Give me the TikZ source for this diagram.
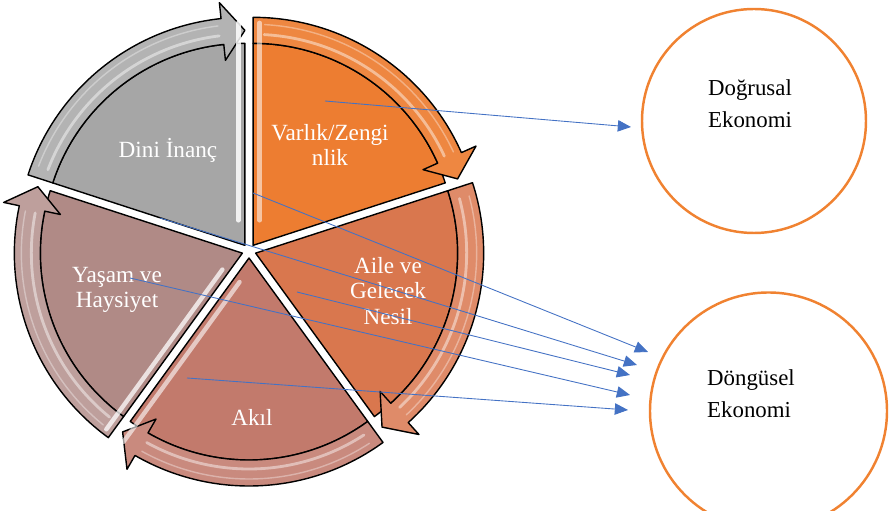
\documentclass[tikz,border=0pt]{standalone}
\usepackage{fontspec}
\setmainfont{Liberation Serif}
\usepackage{tikz}
\usetikzlibrary{arrows.meta}

\definecolor{varlikor}{HTML}{ED7D31}
\definecolor{aileor}{HTML}{D9774E}
\definecolor{akilor}{HTML}{C27A6C}
\definecolor{yasamor}{HTML}{B08A86}
\definecolor{dinigr}{HTML}{A6A6A6}
\definecolor{ringor}{HTML}{F08231}
\definecolor{linkblue}{HTML}{4472C4}

\tikzset{
	piece/.style={draw=black, line width=0.8pt, line join=round},
	gloss/.style={draw=white, line cap=round},
	seglabel/.style={text=white, align=center, font=\fontsize{13.2}{14.5}\selectfont},
	ecolabel/.style={text=black, align=left, font=\fontsize{13}{18}\selectfont},
	ecoring/.style={draw=ringor, line width=1.4pt, circle, inner sep=0pt},
	link/.style={draw=linkblue, line width=0.5pt, -{Triangle[length=7.5pt,width=6.5pt]}},
}

\begin{document}
\begin{tikzpicture}
	\useasboundingbox (0,0) rectangle (17.8,10.22);
	\coordinate (hub) at (4.98,5.20);

	% start angle / wedge / band / strip edge / strip side / strip opacity
	\foreach \a/\col/\bcol/\se/\ss/\so in {
		90/varlikor/varlikor!92!white/90/0/0.55,
		18/aileor/aileor!85!white/18/0/0,
		-54/akilor/akilor!88!white/-126/-36/0.6,
		-126/yasamor/yasamor!82!white/-126/144/0.75,
		162/dinigr/dinigr!85!white/90/180/0.85} {
		\pgfmathsetmacro{\e}{\a-72}
		\pgfmathsetmacro{\h}{\e+6}
		\begin{scope}[shift={(hub)}, shift={(\a-36:0.14)}]
			\path[piece, fill=\col] (0,0) -- (\a:4.04) arc[start angle=\a, end angle=\e, radius=4.04] -- cycle;
			\path[piece, fill=\bcol] (\a:4.04) -- (\a:4.56) arc[start angle=\a, end angle=\h, radius=4.56]
				-- (\h:4.88) -- (\e:4.30) -- (\h:3.72) -- (\h:4.04)
				arc[start angle=\h, end angle=\a, radius=4.04] -- cycle;
			\draw[gloss, opacity=0.45, line width=1.6pt] (\a-3:4.22) arc[start angle=\a-3, end angle=\h+1, radius=4.22];
			\draw[gloss, opacity=0.35, line width=0.8pt] (\a-3:4.42) arc[start angle=\a-3, end angle=\h+1, radius=4.42];
			\draw[gloss, opacity=\so, line width=2.5pt] ([shift={(\ss:0.13)}]\se:0.5) -- ([shift={(\ss:0.13)}]\se:4.45);
		\end{scope}
	}

	\node[seglabel] (varlik) at (6.60,7.32) {Varlık/Zengi\\nlik};
	\node[seglabel] (aile) at (7.76,4.40) {Aile ve\\Gelecek\\Nesil};
	\node[seglabel] (akil) at (5.04,1.88) {Akıl};
	\node[seglabel] (yasam) at (2.34,4.42) {Yaşam ve\\Haysiyet};
	\node[seglabel] (dini) at (3.36,7.22) {Dini İnanç};

	\node[ecoring, minimum size=4.48cm] (dogrusal) at (15.08,7.80) {};
	\node[ecolabel] (dogrusaltxt) at (15.00,8.14) {Doğrusal\\Ekonomi};
	\node[ecoring, minimum size=4.74cm] (dongusel) at (15.37,2.00) {};
	\node[ecolabel] (donguseltxt) at (15.02,2.34) {Döngüsel\\Ekonomi};

	% link ends
	\coordinate (varlikpt) at (6.50,8.20);
	\coordinate (dinipt) at (5.06,6.36);
	\coordinate (yasampt) at (3.20,5.86);
	\coordinate (ailept) at (5.94,4.38);
	\coordinate (haysiyetpt) at (2.60,4.66);
	\coordinate (akilpt) at (3.74,2.66);
	\coordinate (dogin) at (12.62,7.68);
	\coordinate (donin1) at (12.96,3.18);
	\coordinate (donin2) at (12.74,2.92);
	\coordinate (donin3) at (12.60,2.72);
	\coordinate (donin4) at (12.60,2.32);
	\coordinate (donin5) at (12.56,2.02);

	\draw[link] (varlikpt) -- (dogin);
	\draw[link] (dinipt) -- (donin1);
	\draw[link] (yasampt) -- (donin2);
	\draw[link] (ailept) -- (donin3);
	\draw[link] (haysiyetpt) -- (donin4);
	\draw[link] (akilpt) -- (donin5);
\end{tikzpicture}
\end{document}
